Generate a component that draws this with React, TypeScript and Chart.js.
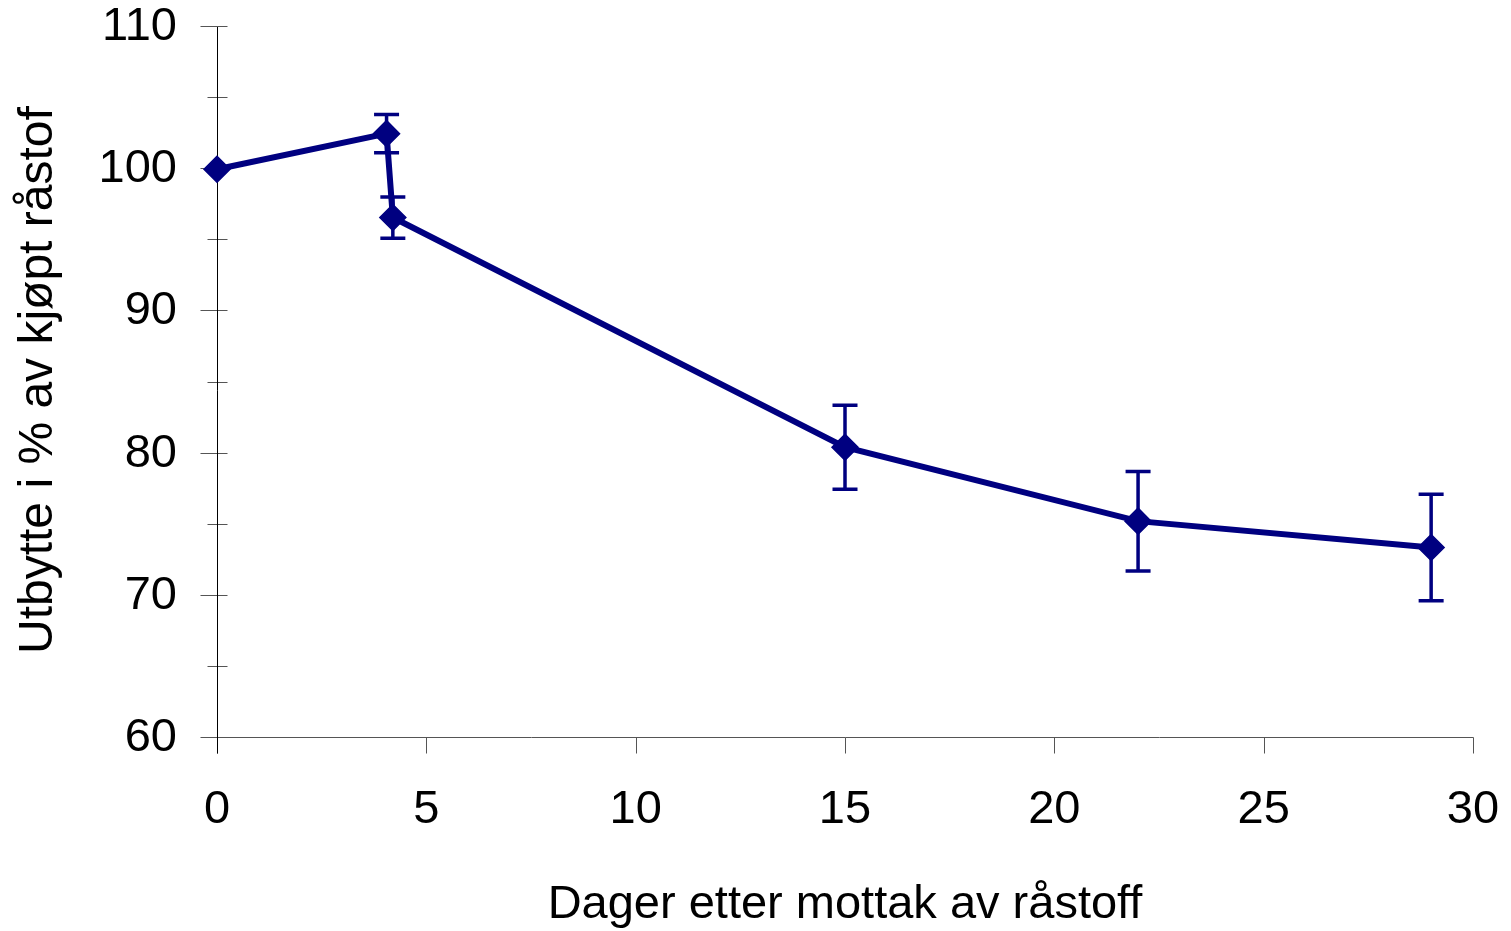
import { useEffect, useRef } from "react";
import { Chart, registerables } from "chart.js";

Chart.register(...registerables);

// ---- data ----
const days = [0, 4.05, 4.2, 15, 22, 29];
const yieldPct = [100, 102.5, 96.6, 80.45, 75.25, 73.4];
const errorPct = [0, 1.35, 1.45, 2.95, 3.5, 3.75];
const xTickValues = [0, 5, 10, 15, 20, 25, 30];
const yTickValues = [60, 70, 80, 90, 100, 110];
const yMinorTickValues = [65, 75, 85, 95, 105];
const xTitle = "Dager etter mottak av råstoff";
const yTitle = "Utbytte i % av kjøpt råstoff";

const FONT = "'Liberation Sans', Arial, sans-serif";
const NAVY = "#000080";

const zeroPadding = (s: any) => {
  s.paddingTop = 0;
  s.paddingBottom = 0;
  s.paddingLeft = 0;
  s.paddingRight = 0;
};

const axesPlugin = {
  id: "excelAxes",
  beforeDatasetsDraw(chart: any) {
    const { ctx, scales, chartArea } = chart;
    const xs = scales.x;
    const ys = scales.y;
    const ax = Math.round(chartArea.left) + 0.5;
    const ay = Math.round(chartArea.bottom) - 0.5;
    ctx.save();
    ctx.lineWidth = 1;
    ctx.strokeStyle = "#555";
    yTickValues.forEach((v) => {
      const py = Math.round(ys.getPixelForValue(v)) - 0.5;
      ctx.beginPath();
      ctx.moveTo(ax - 17, py);
      ctx.lineTo(ax + 10, py);
      ctx.stroke();
    });
    yMinorTickValues.forEach((v) => {
      const py = Math.round(ys.getPixelForValue(v)) - 0.5;
      ctx.beginPath();
      ctx.moveTo(ax - 10, py);
      ctx.lineTo(ax + 10, py);
      ctx.stroke();
    });
    ctx.beginPath();
    ctx.moveTo(ax, ay);
    ctx.lineTo(Math.round(chartArea.right) + 0.5, ay);
    ctx.stroke();
    xTickValues.forEach((v) => {
      const px = Math.round(xs.getPixelForValue(v)) + 0.5;
      ctx.beginPath();
      ctx.moveTo(px, ay);
      ctx.lineTo(px, ay + 16);
      ctx.stroke();
    });
    ctx.strokeStyle = "#000";
    ctx.beginPath();
    ctx.moveTo(ax, Math.round(chartArea.top));
    ctx.lineTo(ax, ay + 16);
    ctx.stroke();

    // error bars
    ctx.strokeStyle = NAVY;
    ctx.lineWidth = 3.5;
    days.forEach((d, i) => {
      const e = errorPct[i];
      if (!e) return;
      const px = xs.getPixelForValue(d);
      const top = ys.getPixelForValue(yieldPct[i] + e);
      const bot = ys.getPixelForValue(yieldPct[i] - e);
      ctx.beginPath();
      ctx.moveTo(px, top);
      ctx.lineTo(px, bot);
      ctx.moveTo(px - 12.5, top);
      ctx.lineTo(px + 12.5, top);
      ctx.moveTo(px - 12.5, bot);
      ctx.lineTo(px + 12.5, bot);
      ctx.stroke();
    });
    ctx.restore();
  },
  afterDraw(chart: any) {
    const { ctx } = chart;
    ctx.save();
    ctx.beginPath();
    ctx.rect(0, 106, 150, chart.height - 106);
    ctx.clip();
    ctx.translate(52, 654);
    ctx.rotate(-Math.PI / 2);
    ctx.font = `48px ${FONT}`;
    ctx.fillStyle = "#000";
    ctx.textAlign = "left";
    ctx.textBaseline = "alphabetic";
    ctx.fillText(yTitle, 0, 0);
    ctx.restore();
  },
};

export default function App() {
  const ref = useRef<HTMLCanvasElement | null>(null);

  useEffect(() => {
    if (!ref.current) return;
    const chart = new Chart(ref.current, {
      type: "line",
      data: {
        datasets: [
          {
            data: days.map((d, i) => ({ x: d, y: yieldPct[i] })),
            borderColor: NAVY,
            backgroundColor: NAVY,
            borderWidth: 6,
            pointStyle: "rectRot",
            pointRadius: 13,
            pointBackgroundColor: NAVY,
            pointBorderColor: NAVY,
            pointBorderWidth: 1.5,
            tension: 0,
            fill: false,
            clip: false,
          },
        ],
      },
      options: {
        responsive: false,
        animation: false,
        devicePixelRatio: 1,
        layout: { autoPadding: false, padding: { top: 27, right: 38, left: 0, bottom: 0 } },
        plugins: {
          legend: { display: false },
          tooltip: { enabled: false },
        },
        scales: {
          x: {
            type: "linear",
            position: "bottom",
            min: 0,
            max: 30,
            afterBuildTicks: (s: any) => {
              s.ticks = xTickValues.map((v) => ({ value: v }));
            },
            afterFit: (s: any) => {
              s.height = 193;
              zeroPadding(s);
            },
            grid: { display: false, drawTicks: false },
            border: { display: false },
            ticks: {
              color: "#000",
              padding: 44,
              maxRotation: 0,
              autoSkip: false,
              font: { family: FONT, size: 47, lineHeight: 1.2 },
            },
            title: {
              display: true,
              text: xTitle,
              color: "#000",
              font: { family: FONT, size: 47, lineHeight: 1 },
              padding: { top: 0, bottom: 2 },
            },
          },
          y: {
            type: "linear",
            min: 60,
            max: 110,
            afterBuildTicks: (s: any) => {
              s.ticks = yTickValues.map((v) => ({ value: v }));
            },
            afterFit: (s: any) => {
              s.width = 217;
              zeroPadding(s);
            },
            grid: { display: false, drawTicks: false },
            border: { display: false },
            ticks: {
              color: "#000",
              padding: 40,
              autoSkip: false,
              font: { family: FONT, size: 47, lineHeight: 1 },
            },
          },
        },
      },
      plugins: [axesPlugin],
    });
    return () => chart.destroy();
  }, []);

  return (
    <div style={{ position: "fixed", left: 0, top: 0, width: 1511, height: 931, background: "#fff" }}>
      <canvas ref={ref} width={1511} height={931} style={{ display: "block" }} />
    </div>
  );
}
